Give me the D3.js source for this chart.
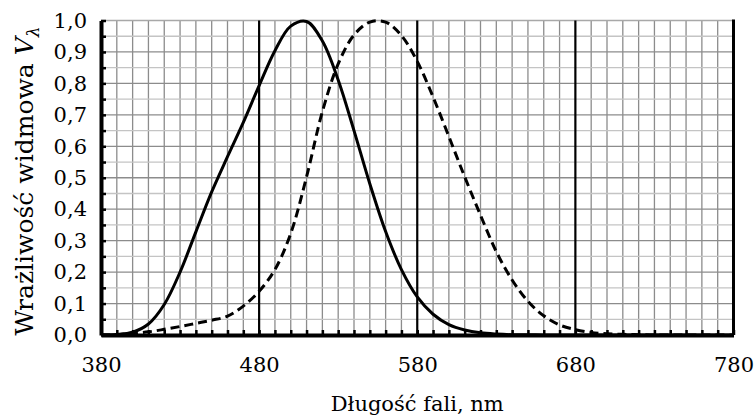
<!DOCTYPE html>
<html>
<head>
<meta charset="utf-8">
<script src="https://cdn.jsdelivr.net/npm/d3@7"></script>
<style>
  body { margin: 0; background: #fff; }
  text { font-family: "DejaVu Serif", serif; fill: #000; }
</style>
</head>
<body>
<svg id="chart"></svg>
<script>
// Dane (krok 10 nm)
const wavelengths = d3.range(380, 781, 10);
// linia ciągła - widzenie skotopowe
const scotopic = [0.001, 0.002, 0.009, 0.035, 0.097, 0.200, 0.328, 0.455, 0.567, 0.676,
  0.793, 0.904, 0.982, 0.997, 0.935, 0.811, 0.650, 0.481, 0.329, 0.208,
  0.121, 0.066, 0.033, 0.016, 0.007, 0.003, 0.001, 0.001, 0, 0,
  0, 0, 0, 0, 0, 0, 0, 0, 0, 0, 0];
// linia przerywana - widzenie fotopowe
const photopic = [0, 0.001, 0.005, 0.010, 0.018, 0.027, 0.037, 0.047, 0.060, 0.092,
  0.139, 0.208, 0.323, 0.503, 0.710, 0.862, 0.954, 0.995, 0.995, 0.952,
  0.870, 0.757, 0.631, 0.503, 0.381, 0.265, 0.175, 0.107, 0.061, 0.032,
  0.017, 0.008, 0.004, 0.002, 0.001, 0, 0, 0, 0, 0, 0];
const xTicks = [380, 480, 580, 680, 780];

const width = 755;
const height = 416;

const svg = d3.select('#chart')
  .attr('width', width)
  .attr('height', height);

const x = d3.scaleLinear().domain([380, 780]).range([101, 733.5]);
const y = d3.scaleLinear().domain([0, 1]).range([335, 20.5]);

svg.append('clipPath').attr('id', 'plot')
  .append('rect')
  .attr('x', x(380)).attr('y', y(1) - 3)
  .attr('width', x(780) - x(380)).attr('height', y(0) - y(1) + 3);

// Siatka pionowa co 10 nm
svg.append('g')
  .selectAll('line')
  .data(d3.range(390, 780, 10).filter(d => !xTicks.includes(d)))
  .enter().append('line')
  .attr('x1', d => x(d)).attr('x2', d => x(d))
  .attr('y1', y(1)).attr('y2', y(0))
  .attr('stroke', '#8c8c8c')
  .attr('stroke-width', 1.3);

// Siatka pozioma co 0,05
svg.append('g')
  .selectAll('line')
  .data(d3.range(1, 21).map(i => i * 0.05))
  .enter().append('line')
  .attr('x1', x(380)).attr('x2', x(780))
  .attr('y1', d => y(d)).attr('y2', d => y(d))
  .attr('stroke', (d, i) => (i === 19 ? '#a8a8a8' : (i % 2 === 1 ? '#8c8c8c' : '#c4c4c4')))
  .attr('stroke-width', 1.3);

// Grube linie pionowe
svg.append('g')
  .selectAll('line')
  .data([480, 580, 680])
  .enter().append('line')
  .attr('x1', d => x(d)).attr('x2', d => x(d))
  .attr('y1', y(1)).attr('y2', y(0))
  .attr('stroke', '#000')
  .attr('stroke-width', 2.2);

// prawa krawędź
svg.append('line')
  .attr('x1', x(780)).attr('x2', x(780))
  .attr('y1', y(1) - 1).attr('y2', y(0))
  .attr('stroke', '#000')
  .attr('stroke-width', 3);

// Krzywe
const lineOf = values => d3.line()
  .x((d, i) => x(wavelengths[i]))
  .y(d => y(Math.max(0, d)))
  .curve(d3.curveCatmullRom.alpha(0.5))(values);

const curves = svg.append('g').attr('clip-path', 'url(#plot)');

curves.append('path')
  .attr('d', lineOf(photopic))
  .attr('fill', 'none')
  .attr('stroke', '#000')
  .attr('stroke-width', 3)
  .attr('stroke-dasharray', '9,5');

curves.append('path')
  .attr('d', lineOf(scotopic))
  .attr('fill', 'none')
  .attr('stroke', '#000')
  .attr('stroke-width', 3);

// Osie
const xAxis = d3.axisBottom(x)
  .tickValues(d3.range(380, 781, 10))
  .tickSizeInner(-5)
  .tickSizeOuter(0)
  .tickFormat(d => (xTicks.includes(d) ? d : ''));

const gx = svg.append('g')
  .attr('transform', `translate(0,${y(0)})`)
  .call(xAxis);
gx.select('.domain').attr('stroke-width', 4).attr('stroke', '#000');
gx.selectAll('.tick line').attr('stroke-width', 2.5).attr('stroke', '#000');
gx.selectAll('.tick text')
  .attr('y', 22)
  .attr('dy', '0.71em')
  .style('font-size', '21px')
  .style('font-family', '"DejaVu Serif", serif');

const yAxis = d3.axisLeft(y)
  .tickValues(d3.range(0, 21).map(i => i * 0.05))
  .tickSizeInner(-5)
  .tickSizeOuter(0)
  .tickFormat((d, i) => (i % 2 === 0 ? d3.format('.1f')(d).replace('.', ',') : ''));

const gy = svg.append('g')
  .attr('transform', `translate(${x(380)},0)`)
  .call(yAxis);
gy.select('.domain').attr('stroke-width', 4).attr('stroke', '#000');
gy.selectAll('.tick line').attr('stroke-width', 2.5).attr('stroke', '#000');
gy.selectAll('.tick text')
  .attr('x', -14)
  .style('font-size', '21px')
  .style('font-family', '"DejaVu Serif", serif');

// Opisy osi
svg.append('text')
  .attr('x', (x(380) + x(780)) / 2)
  .attr('y', 411)
  .attr('text-anchor', 'middle')
  .style('font-size', '21px')
  .text('Długość fali, nm');

const yLabel = svg.append('text')
  .attr('transform', 'translate(33,181) rotate(-90)')
  .attr('text-anchor', 'middle')
  .style('font-size', '25px');
yLabel.append('tspan').text('Wrażliwość widmowa ');
yLabel.append('tspan').style('font-style', 'italic').text('V');
yLabel.append('tspan').style('font-style', 'italic').style('font-size', '17px')
  .attr('dy', 6).text('λ');
</script>
</body>
</html>
